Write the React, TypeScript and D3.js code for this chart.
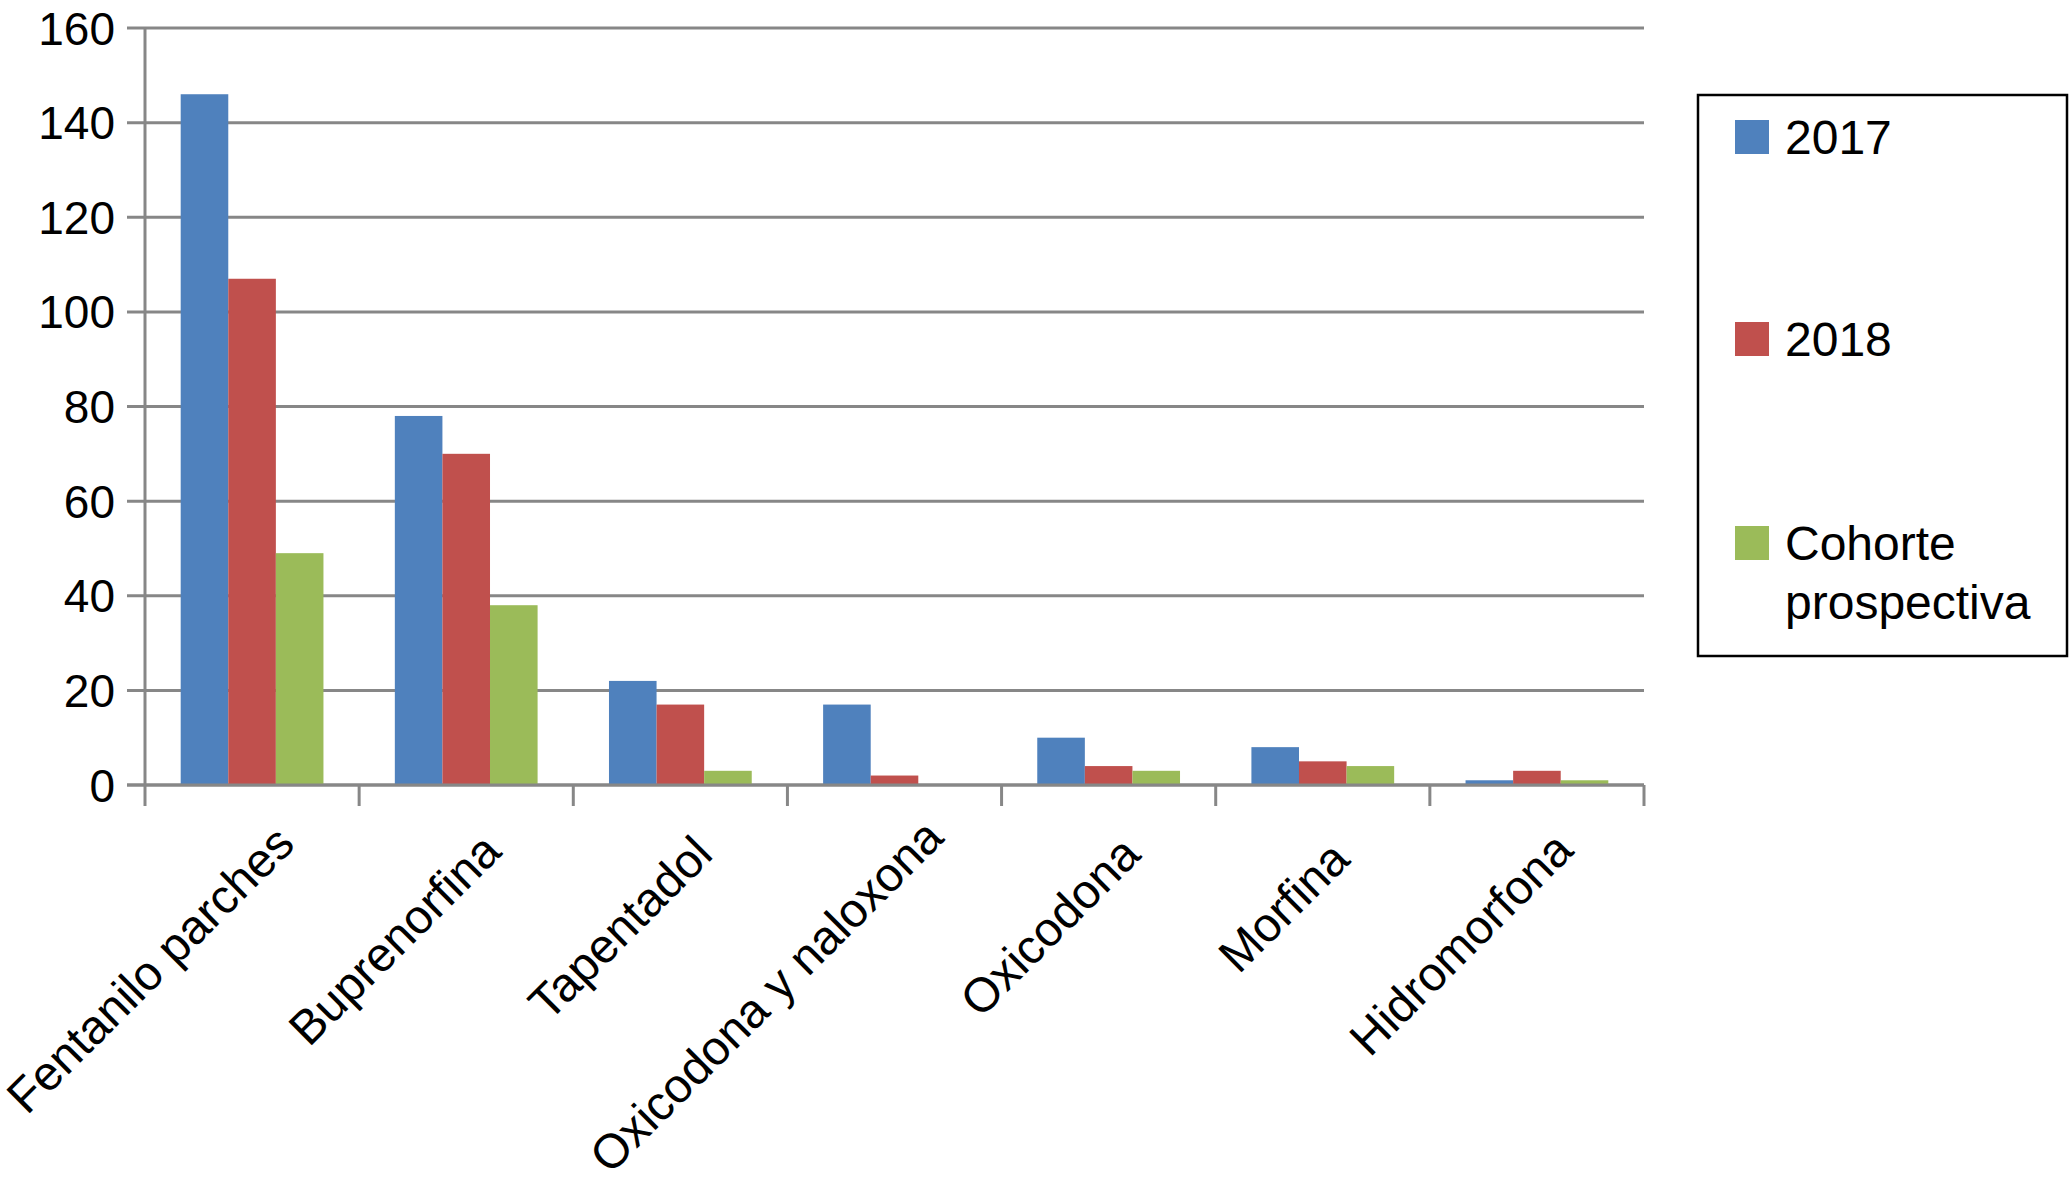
import React from "react";
import * as d3 from "d3";

const categories = [
  "Fentanilo parches",
  "Buprenorfina",
  "Tapentadol",
  "Oxicodona y naloxona",
  "Oxicodona",
  "Morfina",
  "Hidromorfona",
];
const seriesNames = ["2017", "2018", "Cohorte prospectiva"];
const values2017 = [146, 78, 22, 17, 10, 8, 1];
const values2018 = [107, 70, 17, 2, 4, 5, 3];
const valuesCohorte = [49, 38, 3, 0, 3, 4, 1];
const yTicks = [0, 20, 40, 60, 80, 100, 120, 140, 160];
const colors = ["#4F81BD", "#C0504D", "#9BBB59"];

const W = 2070;
const H = 1188;
const left = 145;
const right = 1644;
const top = 28;
const bottom = 785;
const FONT = "'Liberation Sans', Arial, Helvetica, sans-serif";
const GRID = "#878787";
const CAT_FONT = 48;

function measure(text: string, size: number): number {
  try {
    const c = document.createElement("canvas");
    const ctx = c.getContext("2d");
    if (ctx) {
      ctx.font = `${size}px 'Liberation Sans', Arial, sans-serif`;
      return ctx.measureText(text).width;
    }
  } catch (e) {}
  return text.length * size * 0.5;
}

export default function App() {
  const seriesValues = [values2017, values2018, valuesCohorte];
  const x0 = d3.scaleBand().domain(categories).range([left, right]).padding(0);
  const x1 = d3
    .scaleBand()
    .domain(seriesNames)
    .range([0, x0.bandwidth()])
    .paddingInner(0)
    .paddingOuter(0.75);
  const y = d3.scaleLinear().domain([0, 160]).range([bottom, top]);

  const tickXs = categories.map((c) => x0(c) as number).concat([right]);

  return (
    <svg
      width={W}
      height={H}
      style={{ position: "absolute", left: 0, top: 0, background: "#fff" }}
      fontFamily={FONT}
    >
      <rect x={0} y={0} width={W} height={H} fill="#fff" />
      {yTicks.map((t) => (
        <line
          key={"g" + t}
          x1={left - 18}
          x2={right}
          y1={y(t)}
          y2={y(t)}
          stroke={GRID}
          strokeWidth={3}
        />
      ))}
      <line x1={left} x2={left} y1={top} y2={bottom} stroke={GRID} strokeWidth={3} />
      {tickXs.map((tx, i) => (
        <line
          key={"xt" + i}
          x1={tx}
          x2={tx}
          y1={bottom}
          y2={bottom + 21}
          stroke={GRID}
          strokeWidth={3}
        />
      ))}
      {categories.map((c, ci) =>
        seriesNames.map((s, si) => {
          const v = seriesValues[si][ci];
          return (
            <rect
              key={c + s}
              x={(x0(c) as number) + (x1(s) as number)}
              y={y(v)}
              width={x1.bandwidth()}
              height={bottom - y(v)}
              fill={colors[si]}
            />
          );
        })
      )}
      <line x1={left - 18} x2={right} y1={bottom} y2={bottom} stroke={GRID} strokeWidth={3} />
      {yTicks.map((t) => (
        <text
          key={"yl" + t}
          x={115}
          y={y(t)}
          dy="0.36em"
          textAnchor="end"
          fontSize={46}
          fill="#000"
        >
          {t}
        </text>
      ))}
      {categories.map((c) => {
        const L = measure(c, CAT_FONT);
        const cx = (x0(c) as number) + x0.bandwidth() / 2 + 18 + 0.07 * L;
        const cy = 873 - 0.07 * L;
        return (
          <text
            key={"cl" + c}
            transform={`translate(${cx},${cy}) rotate(-45)`}
            textAnchor="end"
            fontSize={CAT_FONT}
            fill="#000"
          >
            {c}
          </text>
        );
      })}
      <rect x={1698} y={95} width={369} height={561} fill="none" stroke="#000" strokeWidth={2.5} />
      {[
        { y: 137, lines: ["2017"] },
        { y: 339, lines: ["2018"] },
        { y: 543, lines: ["Cohorte", "prospectiva"] },
      ].map((e, i) => (
        <g key={"lg" + i}>
          <rect x={1735} y={e.y - 17} width={34} height={34} fill={colors[i]} />
          {e.lines.map((ln, li) => (
            <text
              key={ln}
              x={1785}
              y={e.y + li * 59}
              dy="0.36em"
              fontSize={48}
              fill="#000"
            >
              {ln}
            </text>
          ))}
        </g>
      ))}
    </svg>
  );
}
